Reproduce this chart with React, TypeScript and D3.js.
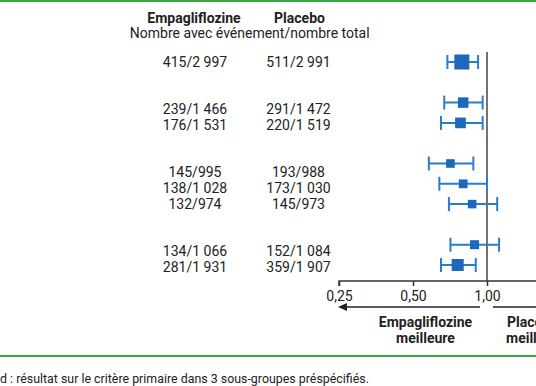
import React, { useEffect, useRef } from 'react';
import * as d3 from 'd3';

const empaCounts = ['415/2 997', '239/1 466', '176/1 531', '145/995', '138/1 028', '132/974', '134/1 066', '281/1 931'];
const placeboCounts = ['511/2 991', '291/1 472', '220/1 519', '193/988', '173/1 030', '145/973', '152/1 084', '359/1 907'];
const groupOf = [0, 1, 1, 2, 2, 2, 3, 3];
const hazardRatio = [0.79, 0.8, 0.78, 0.71, 0.8, 0.87, 0.89, 0.76];
const ciLow = [0.69, 0.67, 0.65, 0.58, 0.64, 0.7, 0.71, 0.65];
const ciHigh = [0.92, 0.96, 0.96, 0.88, 1.0, 1.1, 1.12, 0.9];
const axisTicks = [0.25, 0.5, 1];

const W = 536;
const H = 386;
const FONT = 'Roboto, "Liberation Sans", sans-serif';
const GREEN = '#3aa847';
const LINE_BLUE = '#2a7ccc';
const BOX_BLUE = '#1e68bb';

const totalOf = (s: string) => +s.split('/')[1].replace(/\s/g, '');

const App = () => {
  const axisRef = useRef<SVGGElement>(null);

  const x = d3.scaleLog().domain([0.25, 2]).range([339, 561]);
  const axisY = 281;

  // rows of text and rows of marks are spaced differently in the source
  const textY = d3.scaleLinear().domain([0, 13]).range([61.7, 267.1]);
  const markY = d3.scaleLinear().domain([0, 10]).range([62, 265]);
  const boxSize = d3.scaleSqrt().domain([0, 5988]).range([0, 15]);

  useEffect(() => {
    const g = d3.select(axisRef.current);
    g.selectAll('*').remove();
    g.call(
      d3
        .axisBottom(x)
        .tickValues(axisTicks)
        .tickSize(5)
        .tickFormat((d) => d3.format('.2f')(d as number).replace('.', ','))
    );
    g.select('.domain').attr('stroke', '#333').attr('stroke-width', 1.5).attr('d', `M${x(0.25)},5V0H${W + 10}`);
    g.selectAll('.tick line').attr('stroke', '#333').attr('stroke-width', 1.5);
    g.selectAll('.tick text')
      .attr('font-family', FONT)
      .attr('font-size', 14)
      .attr('fill', '#222')
      .attr('y', 10);
  }, []);

  return (
    <svg
      width={W}
      height={H}
      style={{ position: 'absolute', left: 0, top: 0, background: '#fff' }}
      fontFamily={FONT}
    >
      <rect x={0} y={0} width={W} height={2} fill={GREEN} />
      <rect x={0} y={355} width={W} height={2} fill={GREEN} />

      <g fill="#222" textAnchor="middle">
        <text x={194} y={23} fontSize={14} fontWeight="bold">Empagliflozine</text>
        <text x={299.5} y={23} fontSize={14} fontWeight="bold">Placebo</text>
        <text x={249.7} y={38} fontSize={14}>Nombre avec événement/nombre total</text>
        {empaCounts.map((d, i) => (
          <text key={'e' + i} x={195} y={textY(i + 2 * groupOf[i])} dy="0.35em" fontSize={14}>
            {d}
          </text>
        ))}
        {placeboCounts.map((d, i) => (
          <text key={'p' + i} x={298.5} y={textY(i + 2 * groupOf[i])} dy="0.35em" fontSize={14}>
            {d}
          </text>
        ))}
      </g>

      <line x1={x(1)} x2={x(1)} y1={52} y2={axisY} stroke="#444" strokeWidth={1.5} />

      {hazardRatio.map((d, i) => {
        const y = markY(i + groupOf[i]);
        const s = boxSize(totalOf(empaCounts[i]) + totalOf(placeboCounts[i]));
        return (
          <g key={'m' + i}>
            <line x1={x(ciLow[i])} x2={x(ciHigh[i])} y1={y} y2={y} stroke={LINE_BLUE} strokeWidth={2} />
            <line x1={x(ciLow[i])} x2={x(ciLow[i])} y1={y - 7} y2={y + 7} stroke={LINE_BLUE} strokeWidth={2} />
            <line x1={x(ciHigh[i])} x2={x(ciHigh[i])} y1={y - 7} y2={y + 7} stroke={LINE_BLUE} strokeWidth={2} />
            <rect x={x(d) - s / 2} y={y - s / 2} width={s} height={s} fill={BOX_BLUE} />
          </g>
        );
      })}

      <g ref={axisRef} transform={`translate(0,${axisY})`} />

      <g stroke="#222" strokeWidth={1.5}>
        <line x1={480} x2={343} y1={307} y2={307} />
        <line x1={493} x2={W + 5} y1={307} y2={307} />
      </g>
      <path d="M338,307 L347,303 L347,311 Z" fill="#222" />

      <g fill="#222" fontSize={14} fontWeight="bold">
        <text x={425.5} y={327} textAnchor="middle">Empagliflozine</text>
        <text x={425.5} y={343} textAnchor="middle">meilleure</text>
        <text x={507} y={327}>Placebo</text>
        <text x={506} y={343}>meilleure</text>
      </g>

      <text x={0} y={383} fontSize={12.4} fill="#222">
        d : résultat sur le critère primaire dans 3 sous-groupes préspécifiés.
      </text>
    </svg>
  );
};

export default App;
